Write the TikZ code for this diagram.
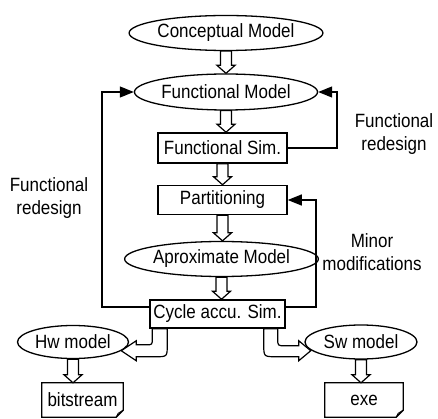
\documentclass[tikz,border=0pt]{standalone}
\usepackage{fontspec}
\usepackage{graphicx}
\setmainfont{Liberation Sans}
\usetikzlibrary{shapes.geometric,calc,arrows.meta}
\newcommand{\tx}[1]{\scalebox{1}[1.13]{#1}}
\begin{document}
\begin{tikzpicture}[x=1pt,y=-1pt,
  every node/.style={font=\fontsize{17}{23}\selectfont, inner sep=0pt},
  ell/.style={draw, ellipse, line width=1.3pt},
  box/.style={draw, rectangle, line width=1.5pt},
  loopline/.style={line width=1.2pt, -{Triangle[length=14pt,width=11pt]}},
  blk/.style={draw, fill=white, line width=1.2pt, line join=miter,
    to path={let \p1=(\tikztostart), \p2=(\tikztotarget) in
      (\x1-5.5pt,\y1) -- (\x1-5.5pt,\y2+8pt) -- (\x1-9pt,\y2+8pt) -- (\x1,\y2)
      -- (\x1+9pt,\y2+8pt) -- (\x1+5.5pt,\y2+8pt) -- (\x1+5.5pt,\y1) -- cycle}},
  bentarrow/.style={draw, fill=white, line width=1.2pt},
  notebox/.style={line width=1.3pt},
  lbl/.style={align=center}
]
\useasboundingbox (0,0) rectangle (438,419);

% nodes
\node[ell, minimum width=167pt, minimum height=35pt] (cm) at (226,33) {\tx{Conceptual Model}};
\node[ell, minimum width=168pt, minimum height=36pt] (fm) at (226,92) {\tx{Functional Model}};
\node[box, minimum width=129pt, minimum height=30pt] (fs) at (222.5,148) {\tx{Functional Sim.}};
\node[box, minimum width=129pt, minimum height=29pt] (pa) at (222.5,200) {\tx{Partitioning}};
\node[ell, minimum width=167pt, minimum height=35pt] (am) at (221.5,259) {\tx{Aproximate Model}};
\node[box, minimum width=135pt, minimum height=28pt] (cy) at (217.5,314) {\tx{Cycle accu. Sim.}};
\node[ell, minimum width=111pt, minimum height=33pt] (hw) at (73,342) {\tx{Hw model}};
\node[ell, minimum width=112pt, minimum height=34pt] (sw) at (361,342) {\tx{Sw model}};
\node[minimum width=81pt, minimum height=34pt] (bs) at (82.5,400) {\tx{bitstream}};
\node[minimum width=78pt, minimum height=34pt] (ex) at (364,400) {\tx{exe}};

% note-shaped boxes
\draw[notebox] (bs.north west) -- (bs.north east) -- ($(bs.south east)+(0,-7)$)
  -- ($(bs.south east)+(-7,0)$) -- (bs.south west) -- cycle;
\draw[line width=0.8pt] ($(bs.south east)+(-7,0)$) -- ($(bs.south east)+(-5,-4)$) -- ($(bs.south east)+(0,-7)$);
\draw[notebox] (ex.north west) -- (ex.north east) -- ($(ex.south east)+(0,-7)$)
  -- ($(ex.south east)+(-7,0)$) -- (ex.south west) -- cycle;
\draw[line width=0.8pt] ($(ex.south east)+(-7,0)$) -- ($(ex.south east)+(-5,-4)$) -- ($(ex.south east)+(0,-7)$);

% straight block arrows
\draw[blk] (cm.south) to (fm.north);
\draw[blk] (fm.south) to (fs.north);
\draw[blk] (fs.south) to (pa.north);
\draw[blk] (pa.south) to (am.north);
\draw[blk] (am.south) to (cy.north);
\draw[blk] (hw.south) to (bs.north);
\draw[blk] (sw.south) to (ex.north);

% bent block arrows
\draw[bentarrow] ($(cy.south west)+(3,0)$) -- ($(cy.south west)+(3,10)$)
  .. controls ($(cy.south west)+(3,16)$) .. ($(cy.south west)+(-3,16)$)
  -- ($(cy.south west)+(-13,16)$) -- ($(cy.south west)+(-13,12)$)
  -- ($(cy.south west)+(-28,22)$) -- ($(cy.south west)+(-13,32)$)
  -- ($(cy.south west)+(-13,28)$) -- ($(cy.south west)+(6,28)$)
  .. controls ($(cy.south west)+(18,28)$) .. ($(cy.south west)+(18,16)$)
  -- ($(cy.south west)+(18,0)$) -- cycle;
\draw[bentarrow] ($(cy.south east)+(-8,0)$) -- ($(cy.south east)+(-8,10)$)
  .. controls ($(cy.south east)+(-8,17)$) .. ($(cy.south east)+(-1,17)$)
  -- ($(cy.south east)+(13,17)$) -- ($(cy.south east)+(13,12)$)
  -- ($(cy.south east)+(25,22)$) -- ($(cy.south east)+(13,32)$)
  -- ($(cy.south east)+(13,28)$) -- ($(cy.south east)+(-9,28)$)
  .. controls ($(cy.south east)+(-22,28)$) .. ($(cy.south east)+(-22,16)$)
  -- ($(cy.south east)+(-22,0)$) -- cycle;

% feedback loops
\coordinate (L) at (102,307);
\coordinate (R1) at (337,148);
\coordinate (R2) at (316,307);
\draw[loopline] ($(cy.west)+(0,-7)$) -- (L) |- (fm.west);
\draw[loopline] (fs.east) -- (R1) |- (fm.east);
\draw[loopline] ($(cy.east)+(0,-7)$) -- (R2) |- (pa.east);

% labels
\node[lbl] (l1) at (49,198) {\tx{Functional}\\\tx{redesign}};
\node[lbl] (l2) at (394,134) {\tx{Functional}\\\tx{redesign}};
\node[lbl] (l3) at (372,252) {\tx{Minor}\\\tx{modifications}};
\end{tikzpicture}
\end{document}
